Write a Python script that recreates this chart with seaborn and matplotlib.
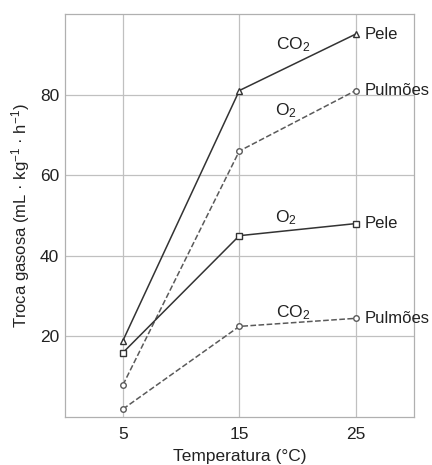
import pandas as pd
import matplotlib
matplotlib.use('Agg')
import matplotlib.pyplot as plt
import seaborn as sns

# temperatures (°C) and gas exchange values
temps = [5, 15, 25]
co2_pele = [19, 81, 95]
o2_pulmoes = [8, 66, 81]
o2_pele = [16, 45, 48]
co2_pulmoes = [2, 22.5, 24.5]

series = [
    {'vals': co2_pele, 'gas': 'CO$_2$', 'organ': 'Pele', 'marker': '^', 'ls': '-', 'color': '#333333', 'gas_xy': (19.6, 92.5)},
    {'vals': o2_pulmoes, 'gas': 'O$_2$', 'organ': 'Pulmões', 'marker': 'o', 'ls': '--', 'color': '#5a5a5a', 'gas_xy': (19.0, 76.0)},
    {'vals': o2_pele, 'gas': 'O$_2$', 'organ': 'Pele', 'marker': 's', 'ls': '-', 'color': '#333333', 'gas_xy': (19.0, 49.5)},
    {'vals': co2_pulmoes, 'gas': 'CO$_2$', 'organ': 'Pulmões', 'marker': 'o', 'ls': '--', 'color': '#5a5a5a', 'gas_xy': (19.6, 26.0)},
]

sns.set_theme(style='whitegrid')
plt.rcParams['font.family'] = ['Liberation Sans', 'DejaVu Sans']
plt.rcParams['mathtext.fontset'] = 'custom'
plt.rcParams['mathtext.rm'] = 'Liberation Sans'
plt.rcParams['mathtext.it'] = 'Liberation Sans:italic'

fig = plt.figure(figsize=(4.32, 4.65), dpi=100)
ax = fig.add_axes([0.150, 0.103, 0.808, 0.867])

for s in series:
    df = pd.DataFrame({'temp': temps, 'val': s['vals']})
    sns.lineplot(data=df, x='temp', y='val', ax=ax, color=s['color'], linestyle=s['ls'],
                 linewidth=1.1, marker=s['marker'], markersize=4.5 if s['marker'] != 'o' else 4,
                 markerfacecolor='white', markeredgecolor=s['color'], markeredgewidth=1.0)
    ax.text(s['gas_xy'][0], s['gas_xy'][1], s['gas'], fontsize=12.5, color='#222222',
            ha='center', va='center')
    ax.text(25.8, s['vals'][-1], s['organ'], fontsize=12, color='#222222',
            ha='left', va='center')

ax.set_xlim(0, 30)
ax.set_ylim(0, 100)
ax.set_xticks([5, 15, 25])
ax.set_yticks([20, 40, 60, 80])
ax.grid(True, color='#c0c0c0', linewidth=0.9)
for sp in ax.spines.values():
    sp.set_color('#b0b0b0')
    sp.set_linewidth(0.9)
ax.tick_params(axis='x', length=0, labelsize=12.5, colors='#222222', pad=7)
ax.tick_params(axis='y', length=0, labelsize=12.5, colors='#222222', pad=4)
ax.set_xlabel('Temperatura (°C)', fontsize=12.5, color='#222222', labelpad=5)
ax.set_ylabel(r'Troca gasosa (mL · kg$^{-1}$ · h$^{-1}$)', fontsize=12, color='#222222', labelpad=6)

fig.savefig('out.png', dpi=100)
